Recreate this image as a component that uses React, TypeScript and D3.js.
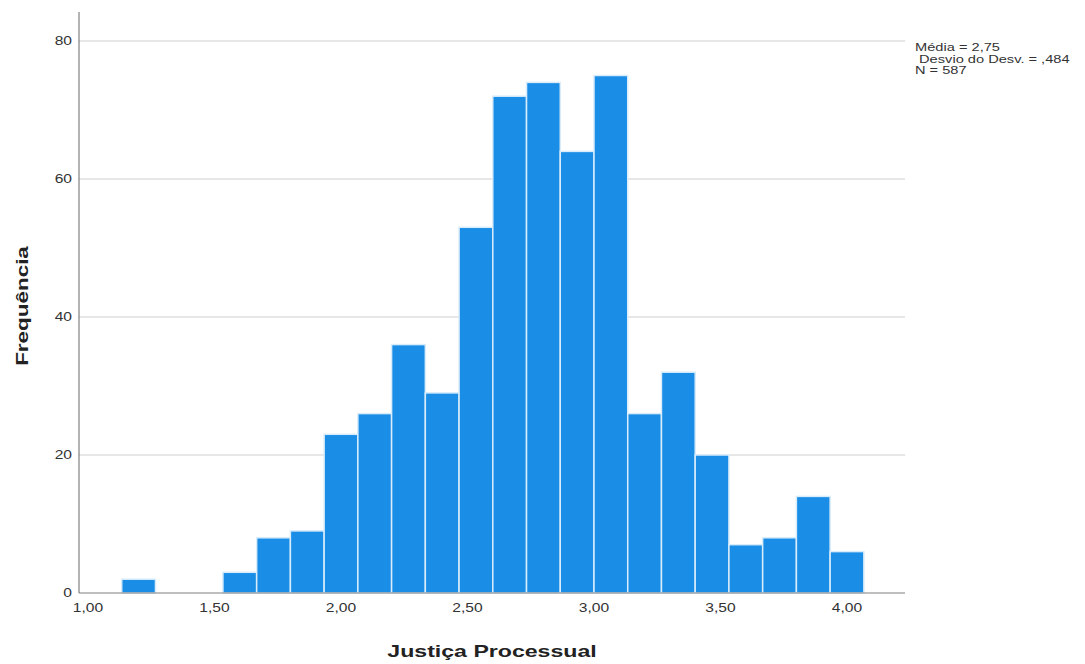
import React from "react";
import * as d3 from "d3";

const counts = [2, 0, 0, 3, 8, 9, 23, 26, 36, 29, 53, 72, 74, 64, 75, 26, 32, 20, 7, 8, 14, 6];
const binStart = 17 / 15;
const binWidth = 2 / 15;
const xTicks = [1.0, 1.5, 2.0, 2.5, 3.0, 3.5, 4.0];
const yTicks = [0, 20, 40, 60, 80];
const statsLines = ["Média = 2,75", " Desvio do Desv. = ,484", "N = 587"];
const xTitle = "Justiça Processual";
const yTitle = "Frequência";

const W = 1085;
const H = 664;
const left = 79;
const right = 905;
const top = 12;
const bottom = 593;
const sx = 1.3;

export default function App() {
  const x = d3.scaleLinear().domain([1 + (left - 88) / 253, 1 + (right - 88) / 253]).range([left, right]);
  const y = d3.scaleLinear().domain([0, (bottom - top) / 6.9]).range([bottom, top]);
  const fmt = (v: number) => v.toFixed(2).replace(".", ",");
  const font = "Arial, 'Liberation Sans', sans-serif";

  return (
    <svg
      width={W}
      height={H}
      style={{ position: "absolute", left: 0, top: 0, background: "#fff" }}
      fontFamily={font}
    >
      {yTicks.slice(1).map((t) => (
        <line key={"g" + t} x1={left} x2={right} y1={y(t)} y2={y(t)} stroke="#cfcfcf" strokeWidth={1.2} />
      ))}
      {counts.map((c, i) =>
        c > 0 ? (
          <rect
            key={i}
            x={x(binStart + i * binWidth)}
            y={y(c)}
            width={x(binStart + (i + 1) * binWidth) - x(binStart + i * binWidth)}
            height={y(0) - y(c)}
            fill="#1a8ee6"
            stroke="#d8ecfb"
            strokeWidth={1.5}
          />
        ) : null
      )}
      <line x1={left} x2={left} y1={top} y2={bottom} stroke="#808080" strokeWidth={1.2} />
      <line x1={left} x2={right} y1={bottom} y2={bottom} stroke="#808080" strokeWidth={1.2} />
      {yTicks.map((t) => (
        <text
          key={"y" + t}
          transform={`translate(${left - 7},${y(t)}) scale(${sx},1)`}
          dy="0.35em"
          textAnchor="end"
          fontSize={12}
          fill="#333"
        >
          {t}
        </text>
      ))}
      {xTicks.map((t) => (
        <text
          key={"x" + t}
          transform={`translate(${x(t)},${bottom + 19}) scale(${sx},1)`}
          textAnchor="middle"
          fontSize={12}
          fill="#333"
        >
          {fmt(t)}
        </text>
      ))}
      <text
        transform={`translate(492,657) scale(1.36,1)`}
        textAnchor="middle"
        fontSize={17}
        fontWeight="bold"
        fill="#222"
      >
        {xTitle}
      </text>
      <text
        transform="translate(28,306) rotate(-90) scale(1.36,1)"
        textAnchor="middle"
        fontSize={16.5}
        fontWeight="bold"
        fill="#222"
      >
        {yTitle}
      </text>
      {statsLines.map((s, i) => (
        <text
          key={i}
          transform={`translate(915,${51 + i * 11.5}) scale(1.33,1)`}
          fontSize={11}
          fill="#333"
          style={{ whiteSpace: "pre" }}
        >
          {s}
        </text>
      ))}
    </svg>
  );
}
